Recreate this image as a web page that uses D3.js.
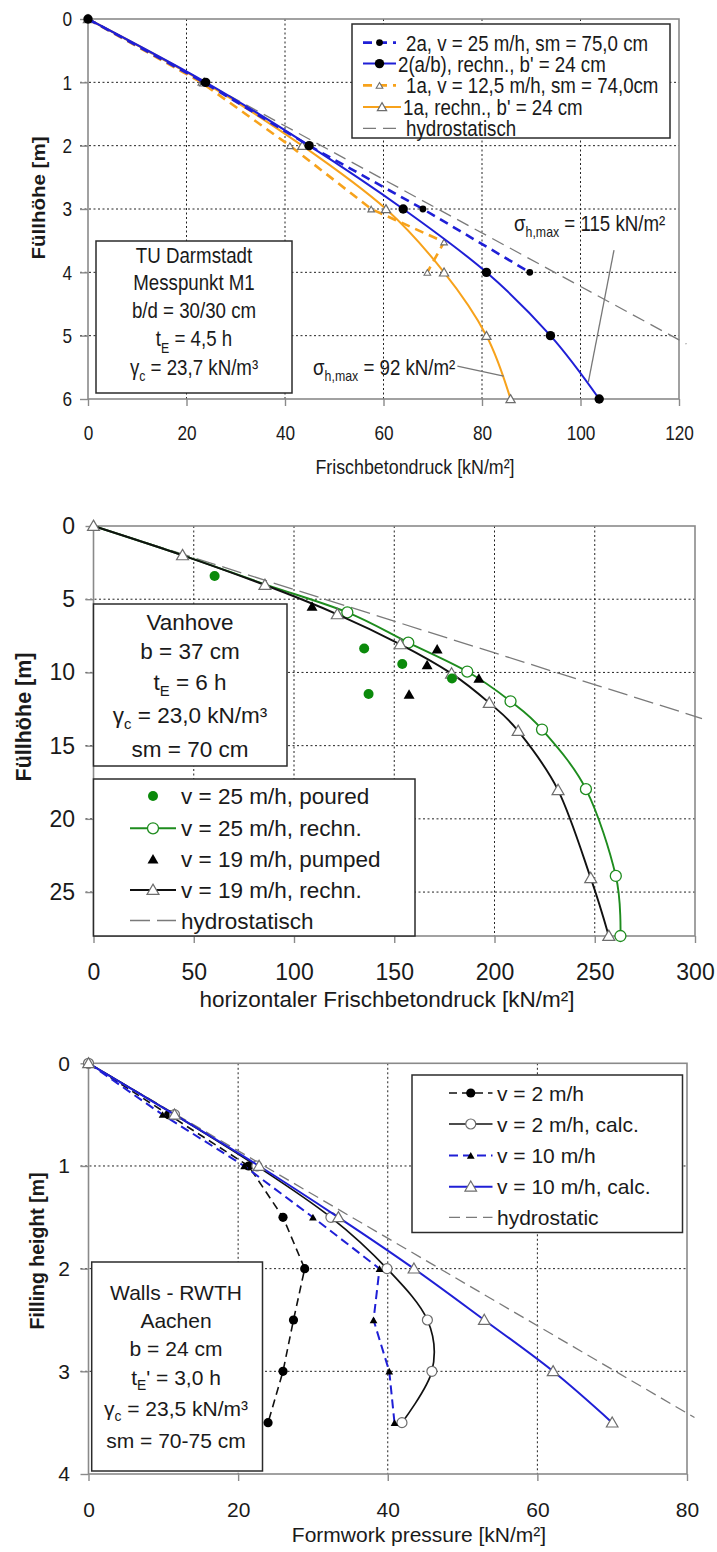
<!DOCTYPE html>
<html>
<head>
<meta charset="utf-8">
<script src="https://cdn.jsdelivr.net/npm/d3@7"></script>
<style>
  html, body { margin: 0; padding: 0; background: #fff; }
  svg { display: block; }
  text { font-family: "Liberation Sans", Arial, Helvetica, sans-serif; fill: #1a1a1a; }
</style>
</head>
<body>
<svg id="chart" width="717" height="1552"></svg>
<script>
// ---------- Panel 1: TU Darmstadt, Messpunkt M1 (pressure kN/m², height m) ----------
const p1XTicks = [0, 20, 40, 60, 80, 100, 120];
const p1YTicks = [0, 1, 2, 3, 4, 5, 6];
const p1Measured2a   = [[0, 0], [23.5, 1], [44.9, 2], [68, 3], [89.7, 4]];
const p1Calc2ab      = [[0, 0], [23.9, 1], [44.9, 2], [64, 3], [80.9, 4], [93.9, 5], [103.8, 6]];
const p1Measured1a   = [[0, 0], [23, 1], [41, 2], [57.5, 3], [72.3, 3.52], [68.9, 4]];
const p1Calc1a       = [[0, 0], [23.6, 1], [43.5, 2], [60.5, 3], [72.3, 4], [80.9, 5], [85.8, 6]];
const p1Hydro        = [[0, 0], [121.5, 5.13]];
const p1Legend = [
  "2a, v = 25 m/h, sm = 75,0 cm",
  "2(a/b), rechn., b' = 24 cm",
  "1a, v = 12,5 m/h, sm = 74,0cm",
  "1a, rechn., b' = 24 cm",
  "hydrostatisch"
];

// ---------- Panel 2: Vanhove ----------
const p2XTicks = [0, 50, 100, 150, 200, 250, 300];
const p2YTicks = [0, 5, 10, 15, 20, 25];
const p2Poured25  = [[60.4, 3.42], [135, 8.37], [154, 9.42], [137.2, 11.47], [178.8, 10.42]];
const p2Calc25    = [[0, 0], [44.6, 2], [86, 4], [126.6, 5.9], [157, 7.96], [186.4, 9.94], [208, 11.97], [223.7, 13.9], [245.6, 17.97], [260.5, 23.9], [262.8, 28]];
const p2Pumped19  = [[109, 5.5], [171.4, 8.42], [166.4, 9.5], [192.2, 10.42], [157.4, 11.52]];
const p2Calc19    = [[0, 0], [44.4, 2], [85.5, 4.03], [121.6, 6.03], [153, 8.08], [178.6, 10.08], [197.4, 12.08], [211.8, 14], [231.7, 18.04], [248, 24.05], [257, 28]];
const p2Hydro     = [[0, 0], [303.5, 13.15]];
const p2Legend = [
  "v = 25 m/h, poured",
  "v = 25 m/h, rechn.",
  "v = 19 m/h, pumped",
  "v = 19 m/h, rechn.",
  "hydrostatisch"
];

// ---------- Panel 3: Walls - RWTH Aachen ----------
const p3XTicks = [0, 20, 40, 60, 80];
const p3YTicks = [0, 1, 2, 3, 4];
const p3Measured2  = [[0, 0], [10.7, 0.5], [21.4, 1], [26, 1.5], [28.9, 2], [27.4, 2.5], [26, 3], [24, 3.5]];
const p3Calc2      = [[0, 0], [11.5, 0.5], [22.5, 1], [32.4, 1.5], [39.9, 2], [45.3, 2.5], [45.9, 3], [41.9, 3.5]];
const p3Measured10 = [[0, 0], [9.9, 0.5], [20.8, 1], [30, 1.5], [38.9, 2], [38.1, 2.5], [40.2, 3], [40.9, 3.5]];
const p3Calc10     = [[0, 0], [11.5, 0.5], [22.8, 1], [33.4, 1.5], [43.5, 2], [52.9, 2.5], [62.1, 3], [70, 3.5]];
const p3Hydro      = [[0, 0], [81, 3.45]];
const p3Legend = [
  "v = 2 m/h",
  "v = 2 m/h, calc.",
  "v = 10 m/h",
  "v = 10 m/h, calc.",
  "hydrostatic"
];

// ---------- colours ----------
const BLUE = "#1f1fd6", ORANGE = "#f7a21b", GREEN = "#1e8c1e", DOT_GREEN = "#0b8a0b",
      GREY = "#7a7a7a", FRAME = "#8a8a8a", MARK_EDGE = "#6d6d6d";

const svg = d3.select("#chart");

// text helper: horizontal condensing (sx), subscripts via {sub: "..."}
function addText(g, x, y, content, o = {}) {
  const size = o.size || 21, sx = o.sx || 1;
  const t = g.append("text")
    .attr("transform", `translate(${x},${y}) scale(${sx},1)` + (o.rotate ? ` rotate(${o.rotate})` : ""))
    .attr("text-anchor", o.anchor || "start")
    .attr("dy", "0.36em")
    .style("font-size", size + "px")
    .style("font-weight", o.weight || "normal");
  const parts = Array.isArray(content) ? content : [content];
  let shift = 0;
  parts.forEach(p => {
    if (typeof p === "string") {
      const ts = t.append("tspan").text(p);
      if (shift) { ts.attr("dy", -shift); shift = 0; }
    } else {
      const s = size * 0.28;
      t.append("tspan").attr("dy", s).style("font-size", (size * 0.66) + "px").text(p.sub);
      shift = s;
    }
  });
  return t;
}

// marker helper
function marker(g, type, x, y, s) {
  if (type === "dot") {
    g.append("circle").attr("cx", x).attr("cy", y).attr("r", s.r).attr("fill", s.fill).attr("stroke", s.stroke || "none");
  } else if (type === "ring") {
    g.append("circle").attr("cx", x).attr("cy", y).attr("r", s.r).attr("fill", "#fff").attr("stroke", s.stroke).attr("stroke-width", s.sw || 1.2);
  } else if (type === "tri") {
    g.append("path").attr("d", d3.symbol(d3.symbolTriangle, s.area)()).attr("transform", `translate(${x},${y + (s.dy || 0)})`)
      .attr("fill", s.fill).attr("stroke", s.stroke || "none").attr("stroke-width", s.sw || 1.2);
  }
}

function makePanel(cfg) {
  const g = svg.append("g");
  const xs = d3.scaleLinear().domain(cfg.xDomain).range([cfg.left, cfg.right]);
  const ys = d3.scaleLinear().domain(cfg.yDomain).range([cfg.top, cfg.bottom]);
  const sx = cfg.sx;

  // dotted grid
  const grid = g.append("g").attr("stroke", "#222").attr("stroke-width", 1).attr("stroke-dasharray", "2,2.5");
  cfg.xTicks.filter(v => v > cfg.xDomain[0] && v < cfg.xDomain[1]).forEach(v => {
    grid.append("line").attr("x1", xs(v)).attr("x2", xs(v)).attr("y1", cfg.top).attr("y2", cfg.bottom);
  });
  cfg.yTicks.filter(v => v > cfg.yDomain[0] && v < cfg.yDomain[1]).forEach(v => {
    grid.append("line").attr("x1", cfg.left - 8).attr("x2", cfg.right).attr("y1", ys(v)).attr("y2", ys(v));
  });

  // plot frame
  g.append("rect").attr("x", cfg.left).attr("y", cfg.top)
    .attr("width", cfg.right - cfg.left).attr("height", cfg.bottom - cfg.top)
    .attr("fill", "none").attr("stroke", FRAME).attr("stroke-width", 1.6);

  // axes
  const fmt = d3.format("d");
  const xa = g.append("g").attr("transform", `translate(0,${cfg.bottom})`)
    .call(d3.axisBottom(xs).tickValues(cfg.xTicks).tickFormat(fmt).tickSize(7).tickSizeOuter(0).tickPadding(cfg.xPad));
  const ya = g.append("g").attr("transform", `translate(${cfg.left},0)`)
    .call(d3.axisLeft(ys).tickValues(cfg.yTicks).tickFormat(fmt).tickSize(8).tickSizeOuter(0).tickPadding(cfg.yPad));
  [xa, ya].forEach(a => {
    a.select(".domain").remove();
    a.selectAll(".tick line").attr("stroke", FRAME).attr("stroke-width", 1.4);
    a.selectAll(".tick text").attr("fill", "#1a1a1a")
      .style("font-family", '"Liberation Sans", Arial, sans-serif')
      .style("font-size", cfg.tickSize + "px")
      .attr("transform", `scale(${cfg.tickSx},1)`);
  });

  // axis titles
  addText(g, cfg.xTitlePos[0], cfg.xTitlePos[1], cfg.xTitle, { size: cfg.titleSize, anchor: "middle", sx });
  addText(g, cfg.yTitlePos[0], cfg.yTitlePos[1], cfg.yTitle, { size: cfg.yTitleSize, anchor: "middle", sx, rotate: -90, weight: "bold" });

  const clip = "clip" + cfg.id;
  g.append("clipPath").attr("id", clip).append("rect")
    .attr("x", cfg.left).attr("y", cfg.top - 12).attr("width", cfg.right - cfg.left + 14).attr("height", cfg.bottom - cfg.top + 12);

  const plot = g.append("g");
  const line = (curve) => d3.line().x(d => xs(d[0])).y(d => ys(d[1])).curve(curve);
  return { g, plot, xs, ys, line, clip };
}

function drawSeries(P, data, st) {
  if (st.stroke) {
    const path = P.plot.append("path").datum(data)
      .attr("d", P.line(st.smooth ? d3.curveCardinal.tension(0) : d3.curveLinear))
      .attr("fill", "none").attr("stroke", st.stroke).attr("stroke-width", st.width || 1.8)
      .attr("stroke-dasharray", st.dash || null);
    if (st.clip) path.attr("clip-path", `url(#${P.clip})`);
  }
  if (st.marker) {
    const mg = P.plot.append("g");
    data.filter((d, i) => i >= (st.markerFrom || 0)).forEach(d => marker(mg, st.marker, P.xs(d[0]), P.ys(d[1]), st.ms));
  }
}

function box(g, x0, y0, x1, y1) {
  g.append("rect").attr("x", x0).attr("y", y0).attr("width", x1 - x0).attr("height", y1 - y0)
    .attr("fill", "#fff").attr("stroke", "#2b2b2b").attr("stroke-width", 1.5);
}

function legendRow(g, y, xl0, xl1, st, label, textX, size, sx) {
  if (st.stroke) g.append("line").attr("x1", xl0).attr("x2", xl1).attr("y1", y).attr("y2", y)
    .attr("stroke", st.stroke).attr("stroke-width", st.width || 1.8).attr("stroke-dasharray", st.dash || null);
  if (st.marker) marker(g, st.marker, (xl0 + xl1) / 2, y, st.ms);
  addText(g, textX, y, label, { size, sx });
}

// =================== Panel 1 ===================
{
  const S = 0.85;
  const P = makePanel({
    id: 1, left: 88, right: 679, top: 19, bottom: 399,
    xDomain: [0, 120], yDomain: [0, 6], xTicks: p1XTicks, yTicks: p1YTicks,
    xPad: 19, yPad: 11.5, tickSize: 21, tickSx: 0.82, sx: S,
    xTitle: "Frischbetondruck [kN/m²]", xTitlePos: [415, 466], titleSize: 21,
    yTitle: "Füllhöhe [m]", yTitlePos: [39, 198], yTitleSize: 20.5
  });
  const st = {
    m2a:  { stroke: BLUE, width: 2.6, dash: "9,6", marker: "dot", ms: { r: 3.4, fill: "#000" } },
    c2ab: { stroke: BLUE, width: 2, smooth: true, marker: "dot", ms: { r: 4.7, fill: "#000" } },
    m1a:  { stroke: ORANGE, width: 2.6, dash: "9,6", marker: "tri", ms: { area: 19, fill: "#fff", stroke: MARK_EDGE, sw: 1.1, dy: 1 } },
    c1a:  { stroke: ORANGE, width: 2, smooth: true, marker: "tri", ms: { area: 37, fill: "#fff", stroke: MARK_EDGE, sw: 1.2, dy: 1 } },
    hyd:  { stroke: GREY, width: 1.3, dash: "13,7" }
  };
  drawSeries(P, p1Hydro, st.hyd);
  drawSeries(P, p1Measured1a, st.m1a);
  drawSeries(P, p1Calc1a, st.c1a);
  drawSeries(P, p1Measured2a, st.m2a);
  drawSeries(P, p1Calc2ab, st.c2ab);

  // σh,max call-outs with leader lines
  const lead = P.g.append("g").attr("stroke", "#777").attr("stroke-width", 1.3);
  lead.append("line").attr("x1", P.xs(106.8)).attr("y1", P.ys(3.65)).attr("x2", P.xs(101.6)).attr("y2", P.ys(5.73));
  lead.append("line").attr("x1", P.xs(75)).attr("y1", P.ys(5.48)).attr("x2", P.xs(84.4)).attr("y2", P.ys(5.64));
  addText(P.g, P.xs(86.5), P.ys(3.22), ["σ", { sub: "h,max" }, " = 115 kN/m²"], { size: 22, sx: S });
  addText(P.g, P.xs(45.7), P.ys(5.49), ["σ", { sub: "h,max" }, " = 92 kN/m²"], { size: 22, sx: S });

  // info box
  box(P.g, 96, 241, 292, 393);
  const info = ["TU Darmstadt", "Messpunkt M1", "b/d = 30/30 cm",
    ["t", { sub: "E" }, " = 4,5 h"], ["γ", { sub: "c" }, " = 23,7 kN/m³"]];
  [255, 282.5, 310, 338.5, 367].forEach((y, i) => addText(P.g, 194, y, info[i], { size: 22, anchor: "middle", sx: S }));

  // legend
  box(P.g, 352, 24, 670, 138);
  const rows = [42.6, 63.6, 85.4, 107, 128.3];
  const lst = [st.m2a, st.c2ab, st.m1a, st.c1a, st.hyd];
  const tx = [406, 398, 406, 403, 406];
  rows.forEach((y, i) => legendRow(P.g, y, 363, i === 1 || i === 3 ? tx[i] - 2 : 396, lst[i], p1Legend[i], tx[i], 22, S));
}

// =================== Panel 2 ===================
{
  const P = makePanel({
    id: 2, left: 93.5, right: 695, top: 526, bottom: 936,
    xDomain: [0, 300], yDomain: [0, 28], xTicks: p2XTicks, yTicks: p2YTicks,
    xPad: 21, yPad: 10.5, tickSize: 23, tickSx: 1, sx: 1,
    xTitle: "horizontaler Frischbetondruck [kN/m²]", xTitlePos: [387, 999], titleSize: 22.5,
    yTitle: "Füllhöhe [m]", yTitlePos: [23, 717], yTitleSize: 21.5
  });
  const st = {
    poured: { marker: "dot", ms: { r: 5, fill: DOT_GREEN } },
    c25:    { stroke: GREEN, width: 1.9, smooth: true, marker: "ring", markerFrom: 3, ms: { r: 5.5, stroke: GREEN, sw: 1.3 } },
    pumped: { marker: "tri", ms: { area: 52, fill: "#000", dy: 1 } },
    c19:    { stroke: "#111", width: 1.9, smooth: true, marker: "tri", ms: { area: 62, fill: "#fff", stroke: MARK_EDGE, sw: 1.2, dy: 1 } },
    hyd:    { stroke: GREY, width: 1.3, dash: "20,7" }
  };
  drawSeries(P, p2Hydro, Object.assign({ clip: true }, st.hyd));
  drawSeries(P, p2Calc25, st.c25);
  drawSeries(P, p2Calc19, st.c19);
  drawSeries(P, p2Poured25, st.poured);
  drawSeries(P, p2Pumped19, st.pumped);

  box(P.g, 93.5, 604, 287, 766);
  const info = ["Vanhove", "b = 37 cm", ["t", { sub: "E" }, " = 6 h"], ["γ", { sub: "c" }, " = 23,0 kN/m³"], "sm = 70 cm"];
  [621.5, 651, 682, 715, 748.5].forEach((y, i) => addText(P.g, 190, y, info[i], { size: 22.5, anchor: "middle" }));

  box(P.g, 93.5, 779, 415, 936);
  const rows = [796, 828.3, 859.3, 890, 920.5];
  const lst = [st.poured, st.c25, st.pumped, st.c19, st.hyd];
  rows.forEach((y, i) => legendRow(P.g, y, 130, 176, lst[i], p2Legend[i], 181, 22.5, 1));
}

// =================== Panel 3 ===================
{
  const P = makePanel({
    id: 3, left: 88.5, right: 687, top: 1063.3, bottom: 1474,
    xDomain: [0, 80], yDomain: [0, 4], xTicks: p3XTicks, yTicks: p3YTicks,
    xPad: 21, yPad: 10.5, tickSize: 21, tickSx: 1, sx: 1,
    xTitle: "Formwork pressure [kN/m²]", xTitlePos: [419, 1534], titleSize: 21,
    yTitle: "Filling height [m]", yTitlePos: [37, 1251], yTitleSize: 19.5
  });
  const st = {
    m2:  { stroke: "#111", width: 1.6, dash: "8,5", marker: "dot", ms: { r: 4.6, fill: "#000" } },
    c2:  { stroke: "#111", width: 1.7, smooth: true, marker: "ring", ms: { r: 5, stroke: MARK_EDGE, sw: 1.2 } },
    m10: { stroke: BLUE, width: 2, dash: "9,5", marker: "tri", ms: { area: 26, fill: "#000", dy: 1 } },
    c10: { stroke: BLUE, width: 2, smooth: true, marker: "tri", ms: { area: 58, fill: "#fff", stroke: MARK_EDGE, sw: 1.2, dy: 1 } },
    hyd: { stroke: GREY, width: 1.3, dash: "11,6" }
  };
  drawSeries(P, p3Hydro, st.hyd);
  drawSeries(P, p3Measured2, st.m2);
  drawSeries(P, p3Calc2, st.c2);
  drawSeries(P, p3Measured10, st.m10);
  drawSeries(P, p3Calc10, st.c10);

  box(P.g, 91.7, 1262, 262.5, 1471);
  const info = ["Walls - RWTH", "Aachen", "b = 24 cm", ["t", { sub: "E" }, "' = 3,0 h"],
    ["γ", { sub: "c" }, " = 23,5 kN/m³"], "sm = 70-75 cm"];
  [1292, 1320, 1348, 1377, 1408, 1440].forEach((y, i) => addText(P.g, 176, y, info[i], { size: 21, anchor: "middle" }));

  box(P.g, 412, 1075, 682.5, 1232.5);
  const rows = [1093, 1124, 1155.4, 1186.7, 1217.3];
  const lst = [st.m2, st.c2, st.m10, st.c10, st.hyd];
  rows.forEach((y, i) => legendRow(P.g, y, 449, 492.5, lst[i], p3Legend[i], 497, 21, 1));
}
</script>
</body>
</html>
